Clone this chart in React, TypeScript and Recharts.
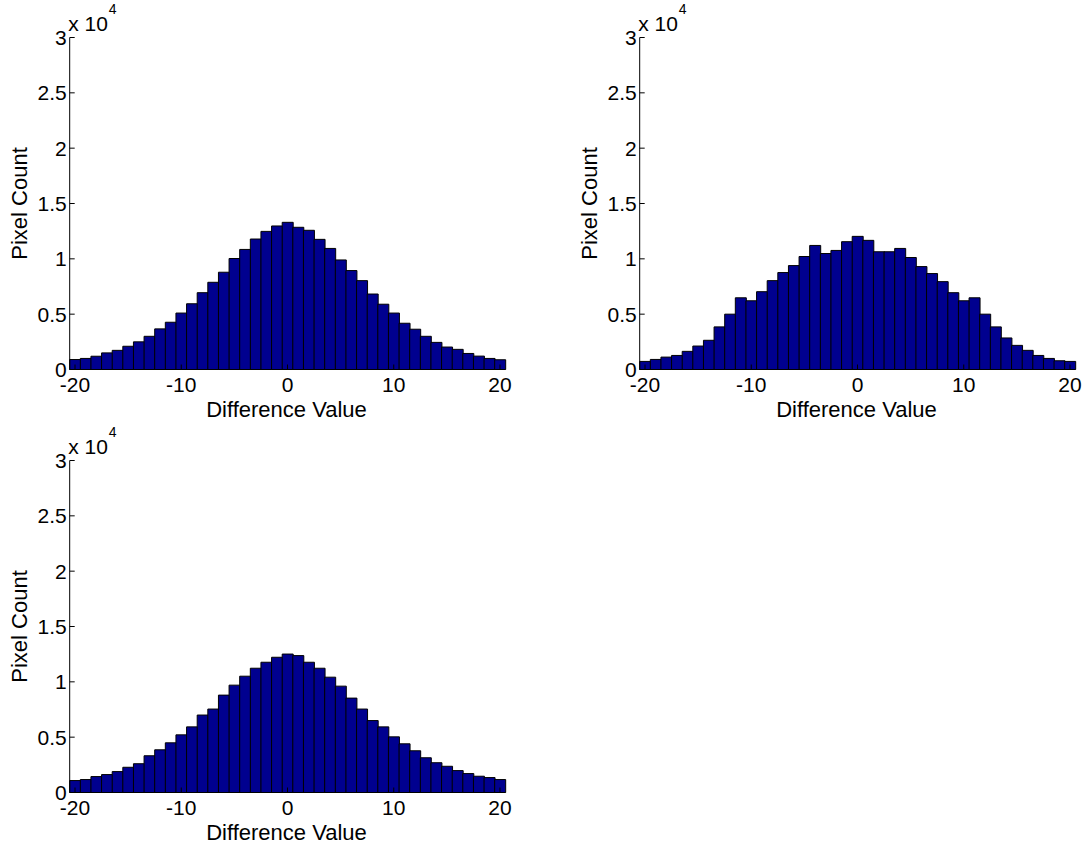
import React from 'react';
import { BarChart, Bar, XAxis, YAxis } from 'recharts';

const bins = [-20, -19, -18, -17, -16, -15, -14, -13, -12, -11, -10, -9, -8, -7, -6, -5, -4, -3, -2, -1, 0, 1, 2, 3, 4, 5, 6, 7, 8, 9, 10, 11, 12, 13, 14, 15, 16, 17, 18, 19, 20];

const hist1 = [900, 1000, 1200, 1500, 1730, 2100, 2500, 3000, 3670, 4270, 5100, 5940, 6940, 7880, 8790, 10030, 10850, 11790, 12480, 12970, 13300, 12850, 12580, 11760, 10940, 9900, 8940, 8030, 6820, 5900, 5100, 4180, 3640, 3000, 2450, 2030, 1820, 1450, 1210, 1000, 880];
const hist2 = [730, 910, 1120, 1270, 1640, 2120, 2640, 3850, 5000, 6480, 6210, 7030, 8030, 8760, 9390, 10210, 11210, 10480, 10760, 11550, 12030, 11670, 10640, 10640, 10940, 10120, 9300, 8670, 7940, 6940, 6210, 6480, 5000, 3850, 2850, 2180, 1730, 1270, 1000, 790, 730];
const hist3 = [1080, 1170, 1440, 1620, 1890, 2280, 2600, 3320, 3860, 4490, 5210, 5930, 7000, 7540, 8800, 9700, 10510, 11230, 11770, 12220, 12510, 12370, 11770, 11230, 10420, 9610, 8530, 7540, 6500, 5930, 5030, 4400, 3770, 3140, 2690, 2370, 1980, 1710, 1470, 1350, 1170];

const yTicks = [0, 5000, 10000, 15000, 20000, 25000, 30000];
const xLabel = 'Difference Value';
const yLabel = 'Pixel Count';

const FONT = '"Liberation Sans", Arial, sans-serif';
const FS = 21;
const LFS = 22;
const W = 540;
const H = 422;
const ML = 9.7;
const MT = 37.5;
const MR = 34.7;
const MB = 2.5;
const YW = 60;
const XH = 50;
const PLOT_LEFT = ML + YW;
const PLOT_TOP = MT;
const PLOT_BOTTOM = H - MB - XH;
const PLOT_CX = (PLOT_LEFT + (W - MR)) / 2;

const YLabelEl = () => (
  <g>
    <text
      x={27}
      y={(PLOT_TOP + PLOT_BOTTOM) / 2}
      transform={`rotate(-90 27 ${(PLOT_TOP + PLOT_BOTTOM) / 2})`}
      textAnchor="middle"
      fontFamily={FONT}
      fontSize={LFS}
      fill="#000"
    >
      {yLabel}
    </text>
    <text x={PLOT_LEFT - 1.5} y={31} fontFamily={FONT} fontSize={FS} fill="#000">
      x 10
    </text>
    <text x={PLOT_LEFT + 39} y={14} fontFamily={FONT} fontSize={14} fill="#000">
      4
    </text>
  </g>
);

const XLabelEl = () => (
  <text x={PLOT_CX - 1} y={PLOT_BOTTOM + 47} textAnchor="middle" fontFamily={FONT} fontSize={LFS} fill="#000">
    {xLabel}
  </text>
);

const tickStyle = { fill: '#000', fontSize: FS, fontFamily: FONT };

const Panel = ({ values, left, top }: { values: number[]; left: number; top: number }) => {
  const data = bins.map((b, i) => ({ bin: b, count: values[i] }));
  return (
    <div style={{ position: 'absolute', left, top }}>
      <BarChart
        width={W}
        height={H}
        data={data}
        margin={{ top: MT, left: ML, right: MR, bottom: MB }}
        barCategoryGap={0}
        barGap={0}
      >
        <XAxis
          xAxisId="b"
          dataKey="bin"
          interval={9}
          height={XH}
          tickSize={-5}
          tickMargin={12.5}
          stroke="#000"
          tick={tickStyle}
          tickLine={{ stroke: '#000' }}
          axisLine={{ stroke: '#000' }}
          label={<XLabelEl />}
        />
        <XAxis
          xAxisId="t"
          dataKey="bin"
          orientation="top"
          interval={9}
          height={0}
          tickSize={-5}
          stroke="#000"
          tickFormatter={() => ''}
          tickLine={{ stroke: '#000' }}
          axisLine={{ stroke: '#000' }}
        />
        <YAxis
          yAxisId="l"
          domain={[0, 30000]}
          ticks={yTicks}
          width={YW}
          tickSize={-5}
          tickMargin={8}
          stroke="#000"
          tick={tickStyle}
          tickFormatter={(v: number) => String(v / 10000)}
          tickLine={{ stroke: '#000' }}
          axisLine={{ stroke: '#000' }}
          label={<YLabelEl />}
        />
        <YAxis
          yAxisId="r"
          orientation="right"
          domain={[0, 30000]}
          ticks={yTicks}
          width={0}
          tickSize={-5}
          stroke="#000"
          tickFormatter={() => ''}
          tickLine={{ stroke: '#000' }}
          axisLine={{ stroke: '#000' }}
        />
        <Bar
          xAxisId="b"
          yAxisId="l"
          dataKey="count"
          fill="#00008F"
          stroke="#000"
          strokeWidth={1}
          isAnimationActive={false}
        />
      </BarChart>
    </div>
  );
};

export default function App() {
  return (
    <div style={{ position: 'absolute', left: 0, top: 0, width: 1082, height: 845, background: '#fff', overflow: 'hidden' }}>
      <Panel values={hist1} left={0} top={0} />
      <Panel values={hist2} left={570} top={0} />
      <Panel values={hist3} left={0} top={423} />
    </div>
  );
}
